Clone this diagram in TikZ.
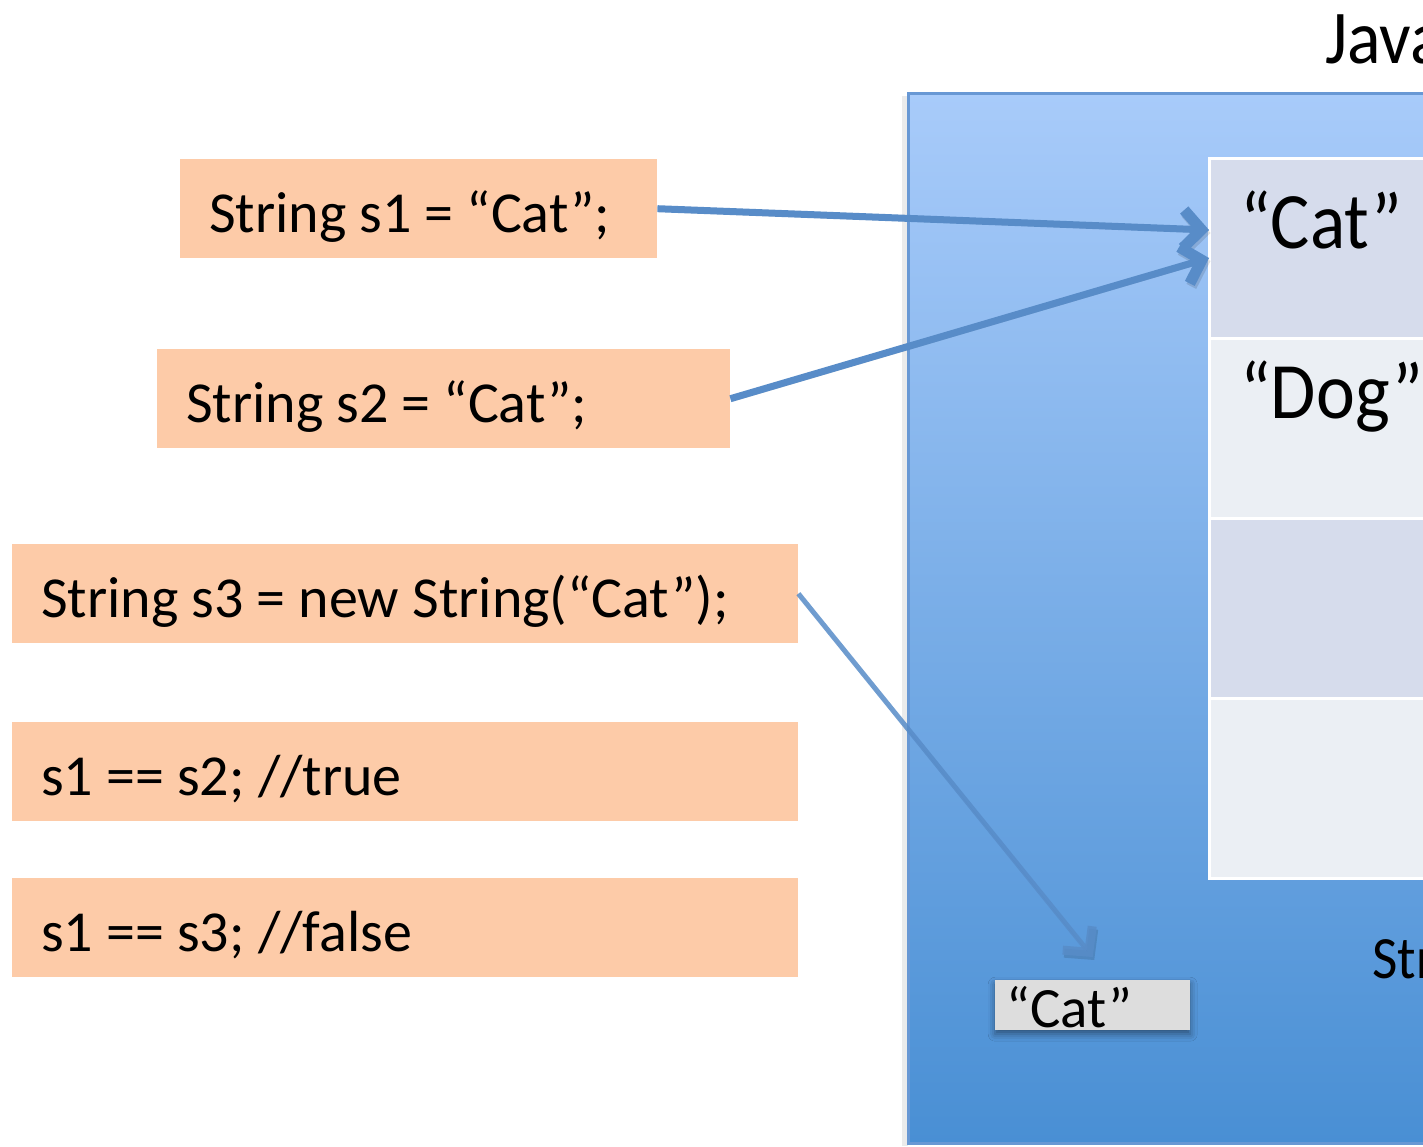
\documentclass[tikz,border=0pt]{standalone}
\usepackage{fontspec}
\setmainfont{Carlito}
\newfontfamily\poolfont[FakeStretch=0.92]{Carlito}
\usetikzlibrary{positioning,arrows.meta,shadows.blur}

\begin{document}
\begin{tikzpicture}[x=1pt,y=-1pt]  %1 unit = 1 px of the reference, y grows downwards
    \definecolor{code-bg}{RGB}{253,203,168};   %peach
    \definecolor{heap-top}{RGB}{168,203,250};  %light blue
    \definecolor{heap-bot}{RGB}{73,143,212};   %dark blue
    \definecolor{heap-line}{RGB}{104,152,212};
    \definecolor{pool-a}{RGB}{214,220,236};
    \definecolor{pool-b}{RGB}{235,239,244};
    \definecolor{ref-blue}{RGB}{88,140,200};
    \definecolor{cat-gray}{RGB}{221,221,221};

    \tikzset{codebox/.style={fill=code-bg,anchor=north west,minimum height=99pt,inner xsep=29pt,inner ysep=0pt,
                             text height=50pt,text depth=3pt,align=flush left,font=\fontsize{58}{64}\selectfont},
             poolcell/.style={anchor=north west,minimum width=320pt,minimum height=180pt,inner sep=0pt,outer sep=0pt,
                              draw=white,line width=3pt},
             poollabel/.style={anchor=base west,inner sep=0pt,font=\poolfont\fontsize{80}{90}\selectfont},
             ref/.style={draw=ref-blue,line width=7pt,-{Straight Barb[length=18pt,width=38pt,line width=4pt 1]},
                         preaction={draw=black,opacity=0.12,transform canvas={shift={(1.5pt,-3pt)}}}}}

    \clip (0,0) rectangle (1423,1146);   %fixes the page size too
    \fill[white] (0,0) rectangle (1423,1146);

    % heap
    \fill[black!8] (902,96) rectangle (908,1146);
    \shade[top color=heap-top,bottom color=heap-bot] (908,93) rectangle (1450,1143);
    \draw[heap-line,line width=3pt] (1450,93) -- (908,93) -- (908,1143) -- (1450,1143);
    \node[poollabel,font=\poolfont\fontsize{76}{80}\selectfont] (heap) at (1325,63) {Java};

    % string pool
    \node[poolcell,fill=pool-a] (pcat) at (1209,158) {};
    \node[poolcell,fill=pool-b,below=0pt of pcat] (pdog) {};
    \node[poolcell,fill=pool-a,below=0pt of pdog] (pthree) {};
    \node[poolcell,fill=pool-b,below=0pt of pthree] (pfour) {};
    \node[poollabel] (lcat) at ([xshift=31pt,yshift=-90pt]pcat.north west) {“Cat”};
    \node[poollabel] (ldog) at ([xshift=31pt,yshift=-80pt]pdog.north west) {“Dog”};
    \node[poollabel,font=\poolfont\fontsize{60}{70}\selectfont] (pool) at (1372,978) {Str};

    % object made by new
    \node[anchor=north west,fill=cat-gray,minimum width=195pt,minimum height=50pt,inner xsep=11pt,inner ysep=0pt,
          text width=173pt,align=flush left,text height=44pt,text depth=0pt,font=\fontsize{57}{60}\selectfont,
          blur shadow={shadow xshift=0pt,shadow yshift=-4pt,shadow blur radius=7pt,shadow opacity=45}]
          (heapcat) at (995,980) {“Cat”};

    % code
    \node[codebox,text width=419pt] (s1) at (180,159) {String s1 = “Cat”;};
    \node[codebox,text width=515pt] (s2) at (157,349) {String s2 = “Cat”;};
    \node[codebox,text width=728pt] (s3) at (12,544) {String s3 = new String(“Cat”);};
    \node[codebox,text width=728pt] (eq12) at (12,722) {s1 == s2; //true};
    \node[codebox,text width=728pt] (eq13) at (12,878) {s1 == s3; //false};

    % references
    \draw[ref] (s1.east) -- ([yshift=18pt]pcat.west);
    \draw[ref] (s2.east) -- ([yshift=-10pt]pcat.west);
    \draw[ref,line width=5pt,opacity=0.85] (s3.east) -- ([yshift=23pt]heapcat.north);
\end{tikzpicture}
\end{document}
